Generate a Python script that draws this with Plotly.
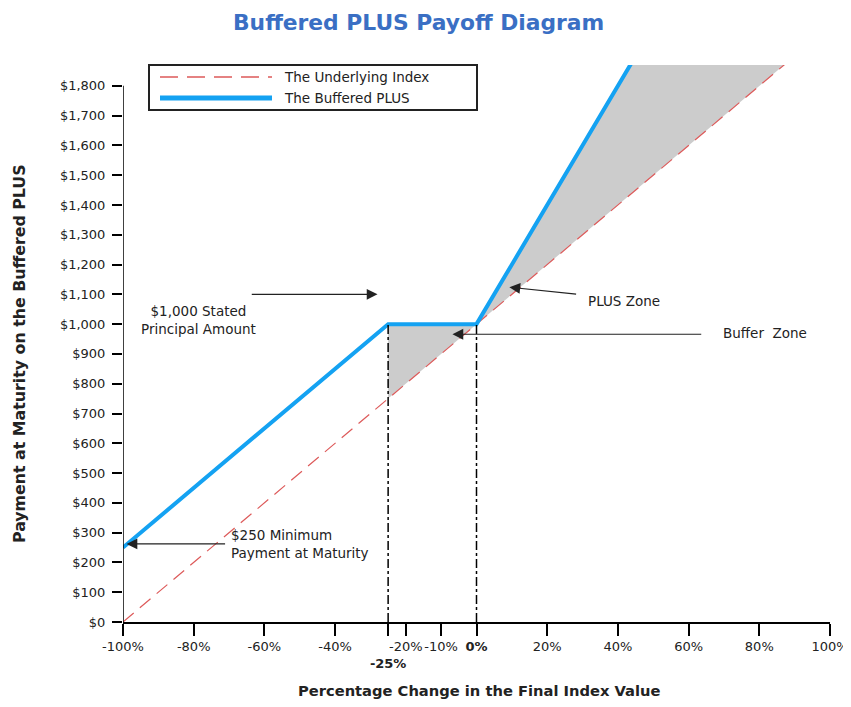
import plotly.graph_objects as go

# ---- data ----
index_x = [-100, 100]
index_y = [0, 2000]
plus_x = [-100, -25, 0, 50]
plus_y = [250, 1000, 1000, 2000]
buffer_zone_x = [-25, 0, -25, -25]
buffer_zone_y = [1000, 1000, 750, 1000]
plus_zone_x = [0, 50, 100, 0]
plus_zone_y = [1000, 2000, 2000, 1000]

x_tickvals = [-100, -80, -60, -40, -25, -20, -10, 0, 20, 40, 60, 80, 100]
x_ticktext = ["-100%", "-80%", "-60%", "-40%", "<br><b>-25%</b>", "-20%", "-10%", "<b>0%</b>",
              "20%", "40%", "60%", "80%", "100%"]
y_tickvals = list(range(0, 1900, 100))
y_ticktext = ["$0", "$100", "$200", "$300", "$400", "$500", "$600", "$700", "$800", "$900",
              "$1,000", "$1,100", "$1,200", "$1,300", "$1,400", "$1,500", "$1,600", "$1,700", "$1,800"]

OFF = 8  # page body margin
W, H = 851 - OFF, 707 - OFF
# plot area in screen pixels: x 123..830, y 65..622
ML, MR, MT, MB = 123 - OFF, 851 - 830, 65 - OFF, 707 - 622
YMAX = 1870
PW, PH = W - ML - MR, H - MT - MB

def px(x):
    return (x - 123) / PW

def py(y):
    return (622 - y) / PH

FONT = "DejaVu Sans"
RED = "#dd5a5a"
BLUE = "#14a2f2"

fig = go.Figure()
fig.add_trace(go.Scatter(x=plus_zone_x, y=plus_zone_y, fill="toself", fillcolor="#cccccc",
                         mode="none", showlegend=False, hoverinfo="skip"))
fig.add_trace(go.Scatter(x=buffer_zone_x, y=buffer_zone_y, fill="toself", fillcolor="#cccccc",
                         mode="none", showlegend=False, hoverinfo="skip"))
fig.add_trace(go.Scatter(x=index_x, y=index_y, mode="lines", name="The Underlying Index",
                         line=dict(color=RED, width=1.2, dash="14px,8px"), showlegend=False))
fig.add_trace(go.Scatter(x=plus_x, y=plus_y, mode="lines", name="The Buffered PLUS",
                         line=dict(color=BLUE, width=4), showlegend=False))

shapes = []
# vertical dash-dot lines
for xv in (-25, 0):
    shapes.append(dict(type="line", xref="x", yref="y", x0=xv, x1=xv, y0=0, y1=1000,
                       line=dict(color="black", width=1.5, dash="dashdot")))
# y axis line
shapes.append(dict(type="line", xref="x", yref="paper", x0=-100, x1=-100, y0=-12 / PH,
                   y1=1800 / YMAX, line=dict(color="black", width=1.5)))
# legend box
shapes.append(dict(type="rect", xref="paper", yref="paper", x0=px(149), x1=px(477),
                   y0=py(110), y1=py(65), line=dict(color="#222", width=2), fillcolor="white"))
shapes.append(dict(type="line", xref="paper", yref="paper", x0=px(160), x1=px(272),
                   y0=py(77), y1=py(77), line=dict(color=RED, width=1.5, dash="18px,9px")))
shapes.append(dict(type="line", xref="paper", yref="paper", x0=px(160), x1=px(272),
                   y0=py(98), y1=py(98), line=dict(color=BLUE, width=5)))

small = dict(family=FONT, size=13.5, color="#222")
ann = []
ann.append(dict(xref="paper", yref="paper", x=px(282), y=py(77), xanchor="left", yanchor="middle",
                text="The Underlying Index", showarrow=False, font=small))
ann.append(dict(xref="paper", yref="paper", x=px(282), y=py(98), xanchor="left", yanchor="middle",
                text="The Buffered PLUS", showarrow=False, font=small))
# title & axis titles
ann.append(dict(xref="paper", yref="paper", x=px(418), y=py(23), xanchor="center", yanchor="middle",
                text="<b>Buffered PLUS Payoff Diagram</b>", showarrow=False,
                font=dict(family=FONT, size=21.8, color="#3a6fc4")))
ann.append(dict(xref="paper", yref="paper", x=px(479), y=py(690), xanchor="center", yanchor="middle",
                text="<b>Percentage Change in the Final Index Value</b>", showarrow=False,
                font=dict(family=FONT, size=14.7, color="#222")))
ann.append(dict(xref="paper", yref="paper", x=px(20), y=py(354), xanchor="center", yanchor="middle",
                text="<b>Payment at Maturity on the Buffered PLUS</b>", showarrow=False, textangle=-90,
                font=dict(family=FONT, size=15.8, color="#222")))
# text labels
ann.append(dict(x=-78.6, y=1014, text="$1,000 Stated<br>Principal Amount", showarrow=False,
                xanchor="center", yanchor="middle", align="center", font=small))
ann.append(dict(x=31.1, y=1078, text="PLUS Zone", showarrow=False,
                xanchor="left", yanchor="middle", font=small))
ann.append(dict(x=69.3, y=970, text="Buffer\u00a0 Zone", showarrow=False,
                xanchor="left", yanchor="middle", font=small))
ann.append(dict(x=-69.9, y=262, text="$250 Minimum<br>Payment at Maturity", showarrow=False,
                xanchor="left", yanchor="middle", align="left", font=small))
# arrows
arrows = [((-28, 1100), (-64, 1100)), ((9.3, 1124), (28.6, 1100)),
          ((-6.8, 966), (64, 966)), ((-99, 262), (-70.7, 262))]
for (hx, hy), (tx, ty) in arrows:
    ann.append(dict(x=hx, y=hy, ax=tx, ay=ty, axref="x", ayref="y", text="", showarrow=True,
                    arrowhead=2, arrowsize=1.8, arrowwidth=1.2, arrowcolor="#222", standoff=0))

fig.update_layout(
    width=W, height=H, margin=dict(l=ML, r=MR, t=MT, b=MB),
    plot_bgcolor="white", paper_bgcolor="white",
    shapes=shapes, annotations=ann, showlegend=False,
    font=dict(family=FONT, size=13, color="#222"),
)
fig.update_xaxes(range=[-100, 100], tickvals=x_tickvals, ticktext=x_ticktext, showgrid=False,
                 zeroline=False, showline=True, linecolor="black", linewidth=1.5,
                 ticks="outside", ticklen=12, tickwidth=1.5, tickcolor="black", tickangle=0,
                 automargin=False, tickfont=dict(family=FONT, size=13, color="#222"))
fig.update_yaxes(range=[0, YMAX], tickvals=y_tickvals, ticktext=y_ticktext, showgrid=False,
                 zeroline=False, showline=False, ticks="outside", ticklen=10, tickwidth=1.5,
                 tickcolor="black", ticklabelstandoff=4, automargin=False,
                 tickfont=dict(family=FONT, size=13, color="#222"))

fig.write_html("out.html")
